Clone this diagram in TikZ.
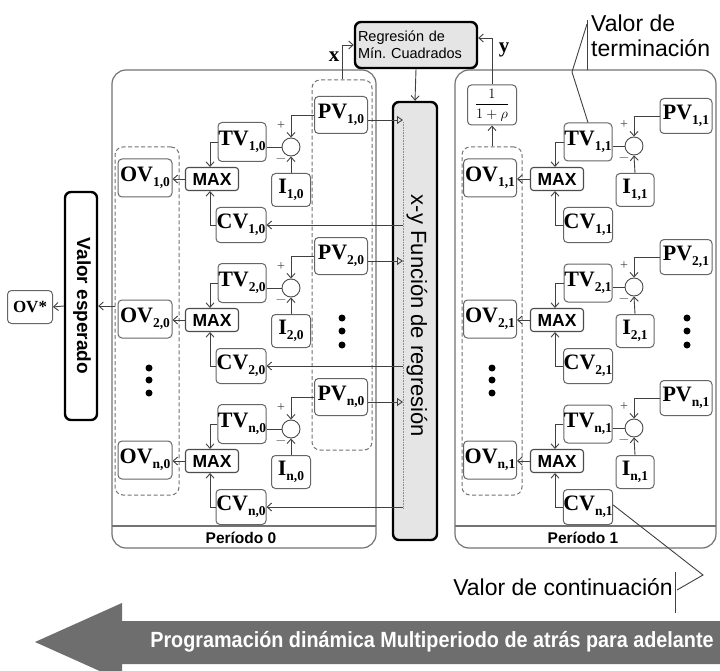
\documentclass[tikz,border=0pt]{standalone}
\usepackage{fontspec}
\usepackage{graphicx}
\setmainfont{Liberation Serif}
\setsansfont{Liberation Sans}
\usetikzlibrary{arrows.meta,calc}
\newcommand\vlab[2]{\textbf{#1\raisebox{-0.45ex}{\fontsize{13.5}{13.5}\selectfont\bfseries #2}}}
\begin{document}
\begin{tikzpicture}[x=1pt,y=-1pt,
  ln/.style={draw=black!75, line width=0.9pt},
  arr/.style={ln, -{Straight Barb[length=4.5pt,width=8pt]}},
  tri/.style={ln, -{Triangle[open,length=6pt,width=8pt]}},
  box/.style={draw=black!60, line width=1pt, rounded corners=4pt, fill=white, inner sep=0pt,
    font=\fontsize{22}{22}\selectfont},
  maxbox/.style={draw=black!70, line width=1.1pt, rounded corners=3pt, fill=white, inner sep=0pt,
    minimum width=53pt, minimum height=23pt, font=\sffamily\bfseries\fontsize{17.5}{17.5}\selectfont},
  sumc/.style={circle, draw=black!70, line width=0.9pt, fill=white, minimum size=18pt, inner sep=0pt},
  pm/.style={font=\fontsize{14}{14}\selectfont, text=black!70, inner sep=0pt},
  dbox/.style={draw=black!55, line width=1pt, dash pattern=on 4pt off 2.5pt, rounded corners=8pt, inner sep=0pt},
  panel/.style={draw=black!55, line width=1.2pt, rounded corners=14pt},
  thickbox/.style={draw=black, line width=2.4pt, rounded corners=6pt, inner sep=0pt},
  perlab/.style={font=\sffamily\bfseries\fontsize{15.5}{15.5}\selectfont, inner sep=0pt},
  callout/.style={font=\sffamily\fontsize{23}{23}\selectfont, inner sep=0pt},
  dotc/.style={circle, fill=black, minimum size=7pt, inner sep=0pt}
]
\useasboundingbox[fill=white] (0,0) rectangle (720,671);

% panels
\draw[panel] (112,70) rectangle (376,548);
\draw[draw=black!55, line width=1.2pt] (112,526) -- (376,526);
\node[perlab] (per0) at (241,538) {Período 0};
\draw[panel] (455,70) rectangle (716,548);
\draw[draw=black!55, line width=1.2pt] (455,526) -- (716,526);
\node[perlab] (per1) at (583,538) {Período 1};

% dashed groups
\node[dbox, minimum width=64pt, minimum height=348pt] (ovd0) at (147,321) {};
\node[dbox, minimum width=60pt, minimum height=370pt] (pvd) at (342,265) {};
\node[dbox, minimum width=60pt, minimum height=348pt] (ovd1) at (492,321) {};

% regression boxes
\node[thickbox, fill=black!10, minimum width=122pt, minimum height=46pt, text width=116pt,
  align=left, font=\sffamily\fontsize{14.5}{17}\selectfont] (ls) at (416,45) {Regresión de\\Mín.\ Cuadrados};
\node[thickbox, fill=black!10, minimum width=44pt, minimum height=438pt] (fn) at (415,321) {};
\node[rotate=-90, font=\sffamily\fontsize{22}{22}\selectfont, inner sep=0pt] (fntx) at (417,316) {x-y Función de regresión};
\coordinate (fl) at (403,0);
\draw[draw=black!45, line width=0.6pt, densely dotted] (403,122) -- (403,508);

% expected value
\node[thickbox, fill=white, minimum width=32pt, minimum height=228pt] (ve) at (81,306) {};
\node[rotate=-90, font=\sffamily\bfseries\fontsize{19}{19}\selectfont, inner sep=0pt] (vetx) at (82,306) {Valor esperado};
\node[box, minimum width=45pt, minimum height=33pt, font=\fontsize{17}{17}\selectfont] (ovs) at (30,307) {\textbf{OV*}};
\draw[arr] (ovd0.west |- ve.east) -- (ve.east);
\draw[arr] (ve.west) -- (ovs.east);

% discount box
\node[box, minimum width=49pt, minimum height=40pt, font=\fontsize{15}{15}\selectfont] (rho) at (492,105) {$\displaystyle\frac{1}{1+\rho}$};

% period 0 rows
\foreach \r/\y in {1/178,2/319,n/460}{
  \node[box, minimum width=54pt, minimum height=38pt] (ova-\r) at (145,\y) {\vlab{OV}{\r,0}};
  \node[maxbox] (mxa-\r) at (212,{\y+1}) {MAX};
  \node[box, minimum width=48pt, minimum height=39pt] (tva-\r) at (242,{\y-36}) {\vlab{TV}{\r,0}};
  \node[box, minimum width=50pt, minimum height=35pt] (cva-\r) at (241,{\y+47}) {\vlab{CV}{\r,0}};
  \node[sumc] (ca-\r) at (291,{\y-31}) {};
  \node[box, minimum width=39pt, minimum height=33pt] (ia-\r) at (291,{\y+12}) {\vlab{I}{\r,0}};
  \node[box, minimum width=53pt, minimum height=37pt] (pva-\r) at (341,{\y-63}) {\vlab{PV}{\r,0}};
  \node[pm] (pla-\r) at (281,{\y-52}) {+};
  \node[pm] (mia-\r) at (281,{\y-19}) {$-$};
  \draw[arr] (pva-\r.west) -| (ca-\r.north);
  \draw[arr] (ia-\r.north) -- (ca-\r.south);
  \draw[ln] (ca-\r.west) -- (ca-\r.west -| tva-\r.east);
  \draw[arr] (tva-\r.west) -| ([xshift=-2pt]mxa-\r.north);
  \draw[arr] (cva-\r.west) -| ([xshift=-2pt]mxa-\r.south);
  \draw[arr] (mxa-\r.west) -- (mxa-\r.west -| ova-\r.east);
  \draw[tri] ([yshift=-5pt]pva-\r.east) -- ([yshift=-5pt]pva-\r.east -| fl);
  \draw[arr] (cva-\r.east -| fl) -- (cva-\r.east);
}

% period 1 rows
\foreach \r/\y in {1/178,2/319,n/460}{
  \node[box, minimum width=53pt, minimum height=38pt] (ovb-\r) at (490,\y) {\vlab{OV}{\r,1}};
  \node[maxbox] (mxb-\r) at (557,{\y+1}) {MAX};
  \node[box, minimum width=48pt, minimum height=38pt] (tvb-\r) at (588,{\y-36}) {\vlab{TV}{\r,1}};
  \node[box, minimum width=49pt, minimum height=35pt] (cvb-\r) at (588,{\y+47}) {\vlab{CV}{\r,1}};
  \node[sumc] (cb-\r) at (634,{\y-32}) {};
  \node[box, minimum width=38pt, minimum height=33pt] (ib-\r) at (635,{\y+12}) {\vlab{I}{\r,1}};
  \node[box, minimum width=52pt, minimum height=35pt] (pvb-\r) at (686,{\y-62}) {\vlab{PV}{\r,1}};
  \node[pm] (plb-\r) at (624,{\y-53}) {+};
  \node[pm] (mib-\r) at (624,{\y-20}) {$-$};
  \draw[arr] (pvb-\r.west) -| (cb-\r.north);
  \draw[arr] (ib-\r.north) -- (cb-\r.south);
  \draw[ln] (cb-\r.west) -- (cb-\r.west -| tvb-\r.east);
  \draw[arr] (tvb-\r.west) -| ([xshift=-2pt]mxb-\r.north);
  \draw[arr] (cvb-\r.west) -| ([xshift=-2pt]mxb-\r.south);
  \draw[arr] (mxb-\r.west) -- (mxb-\r.west -| ovb-\r.east);
}

% ellipsis dots
\foreach \x in {149,492}{
  \foreach \yy in {368,380,393}{ \node[dotc] at (\x,\yy) {}; }
}
\foreach \x in {342,687}{
  \foreach \yy in {318,331,345}{ \node[dotc] at (\x,\yy) {}; }
}

% regression links
\draw[arr] (ls.south) -- (fn.north);
\draw[arr] (pvd.north) |- (ls.west);
\draw[arr] (rho.north) |- ([yshift=7pt]ls.east);
\draw[arr] (ovd1.north) -- (rho.south);
\node[font=\fontsize{21}{21}\selectfont\bfseries, inner sep=0pt] (xl) at (334,57) {x};
\node[font=\fontsize{21}{21}\selectfont\bfseries, inner sep=0pt] (yl) at (504,50) {y};

% callouts
\node[callout, anchor=base west] (vt1) at (591,32) {Valor de};
\node[callout, anchor=base west] (vt2) at (591,57) {terminación};
\draw[ln] (587,20) -- (587,70);
\draw[ln] (587,24) -- (572,72) -- (tvb-1.north);
\node[callout, anchor=base east] (vc) at (673,595) {Valor de continuación};
\draw[ln] (675,572) -- (675,613);
\draw[ln] ([yshift=2pt]cvb-n.east) -- (703,575) -- (677,590);

% bottom arrow
\fill[black!57] (720,621) -- (122,621) -- (122,603) -- (35,642) -- (122,681) -- (122,664) -- (720,664) -- cycle;
\node[text=white, font=\sffamily\bfseries\fontsize{22}{22}\selectfont, inner sep=0pt] (dp) at (432,642)
  {\scalebox{0.9}[1]{Programación dinámica Multiperiodo de atrás para adelante}};
\end{tikzpicture}
\end{document}
